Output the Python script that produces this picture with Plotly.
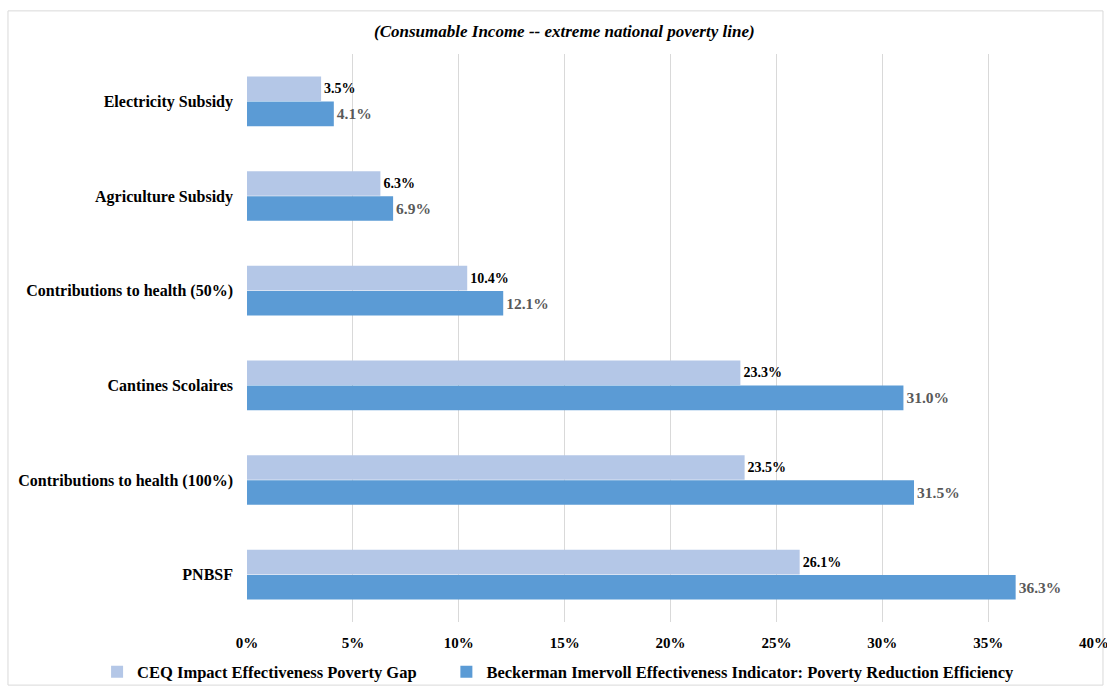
import plotly.graph_objects as go

categories = ["Electricity Subsidy", "Agriculture Subsidy", "Contributions to health (50%)",
              "Cantines Scolaires", "Contributions to health (100%)", "PNBSF"]
ceq_values = [3.5, 6.3, 10.4, 23.3, 23.5, 26.1]
bi_values = [4.1, 6.9, 12.1, 31.0, 31.5, 36.3]
series_names = ["CEQ Impact Effectiveness Poverty Gap",
                "Beckerman Imervoll Effectiveness Indicator: Poverty Reduction Efficiency"]
tick_vals = [0, 5, 10, 15, 20, 25, 30, 35, 40]
tick_text = ["0%", "5%", "10%", "15%", "20%", "25%", "30%", "35%", "40%"]
title_text = "(Consumable Income -- extreme national poverty line)"

FONT = "Liberation Serif"
NBSP = "\u00a0"

fig = go.Figure()
fig.add_trace(go.Bar(
    y=categories, x=ceq_values, orientation="h", name=series_names[0] + NBSP * 6,
    marker=dict(color="#B4C7E7", line=dict(width=0)),
    text=[f"<b>{v:.1f}%</b>" for v in ceq_values], textposition="outside",
    textfont=dict(family=FONT, size=14, color="#000000"),
    constraintext="none", cliponaxis=False,
))
fig.add_trace(go.Bar(
    y=categories, x=bi_values, orientation="h", name=series_names[1],
    marker=dict(color="#5B9BD5", line=dict(width=0)),
    text=[f"<b>{v:.1f}%</b>" for v in bi_values], textposition="outside",
    textfont=dict(family=FONT, size=15.5, color="#595959"),
    constraintext="none", cliponaxis=False,
))

fig.update_layout(
    width=1107, height=687,
    margin=dict(l=247, r=13, t=54, b=65, autoexpand=False),
    paper_bgcolor="white", plot_bgcolor="white",
    barmode="group", bargap=0.47, bargroupgap=0.02,
    font=dict(family=FONT, color="#000000"),
    showlegend=True,
    legend=dict(orientation="h", x=-0.177, xanchor="left",
                y=-0.088, yanchor="middle",
                font=dict(family=FONT, size=16.5, color="#000000", weight="bold"),
                itemwidth=30, bgcolor="rgba(0,0,0,0)"),
    xaxis=dict(range=[0, 40], tickvals=tick_vals, ticktext=tick_text,
               showgrid=True, gridcolor="#D9D9D9", gridwidth=1, automargin=False,
               zeroline=False, showline=False, ticks="", ticklabelstandoff=10,
               ticklabeloverflow="allow",
               tickfont=dict(family=FONT, size=15, color="#000000", weight="bold")),
    yaxis=dict(autorange="reversed", showgrid=False, zeroline=False, showline=False,
               ticks="", ticklabelstandoff=13, automargin=False,
               tickfont=dict(family=FONT, size=16, color="#000000", weight="bold")),
    shapes=[dict(type="rect", xref="paper", yref="paper",
                 x0=-0.2822, x1=1.0106, y0=-0.1111, y1=1.0759,
                 line=dict(color="#D9D9D9", width=1), fillcolor="rgba(0,0,0,0)", layer="below")],
    annotations=[dict(text=f"<b><i>{title_text}</i></b>", xref="paper", yref="paper",
                      x=0.375, y=1.039, showarrow=False, xanchor="center", yanchor="middle",
                      font=dict(family=FONT, size=17, color="#000000"))],
)

fig.write_html("out.html")
